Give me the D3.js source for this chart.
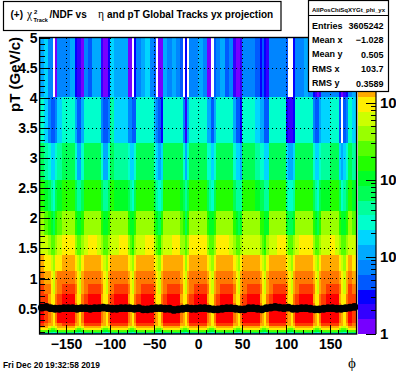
<!DOCTYPE html>
<html>
<head>
<meta charset="utf-8">
<script src="https://cdn.jsdelivr.net/npm/d3@7"></script>
<style>
  html, body { margin: 0; padding: 0; background: #fff; overflow: hidden; }
  text { font-family: "Liberation Sans", sans-serif; font-weight: bold; fill: #000; }
  .serif { font-family: "Liberation Serif", serif; font-weight: normal; }
</style>
</head>
<body>
<script>
// pT bin edges (GeV/c), low to high
const ptEdges = [0.07,0.087,0.107,0.132,0.164,0.203,0.251,0.311,0.385,0.476,0.589,0.729,0.903,1.118,1.383,1.712,2.119,2.623,3.246,4.018,5];

// phi bin edges (deg): narrow bins across each sector boundary, wide in between
const phiEdges = [-180,-175,-170,-167.5,-165,-162.5,-160,-155,-150,-145,-140,-137.5,-135,-132.5,-130,-125,-120,-115,-110,-107.5,-105,-102.5,-100,-95,-90,-85,-80,-77.5,-75,-72.5,-70,-65,-60,-55,-50,-47.5,-45,-42.5,-40,-35,-30,-25,-20,-17.5,-15,-12.5,-10,-5,0,5,10,12.5,15,17.5,20,25,30,35,40,42.5,45,47.5,50,55,60,65,70,72.5,75,77.5,80,85,90,95,100,102.5,105,107.5,110,115,120,125,130,132.5,135,137.5,140,145,150,155,160,162.5,165,167.5,170,175,180];

// counts per cell, one line per pT bin, lowest pT first. 0 = empty cell
const counts = [
[11,11, 7,7,7,7, 11,11,11,11, 7,7,7,7, 11,11,11,11, 7,7,7,7, 11,11,11,11, 7,7,7,7, 11,11,11,11, 7,7,7,7, 11,11,11,11, 7,7,7,7, 11,11,11,11, 7,7,7,7, 11,11,11,11, 7,7,7,7, 11,11,11,11, 7,7,7,7, 11,11,11,11, 7,7,7,7, 11,11,11,11, 7,7,7,7, 11,11,11,11, 7,7,7,7, 11,11],
[68,68, 44,44,28,44, 68,68,68,68, 44,44,28,44, 68,68,68,68, 44,44,28,44, 68,68,68,68, 44,44,28,44, 68,68,68,68, 44,44,28,44, 68,68,68,68, 44,44,28,44, 68,68,68,68, 44,44,28,44, 68,68,68,68, 44,44,28,44, 68,68,68,68, 44,44,28,44, 68,68,68,68, 44,44,28,44, 68,68,68,68, 44,44,28,44, 68,68,68,68, 44,44,28,44, 68,68],
[260,260, 165,105,105,165, 260,260,260,260, 165,105,105,165, 260,260,260,260, 165,105,105,165, 260,260,260,260, 165,105,105,165, 260,260,260,260, 165,105,105,165, 260,260,260,260, 165,105,105,165, 260,260,260,260, 165,105,105,165, 260,260,260,260, 165,105,105,165, 260,260,260,260, 165,105,105,165, 260,260,260,260, 165,105,105,165, 260,260,260,260, 165,105,105,165, 260,260,260,260, 165,105,105,165, 260,260],
[980,980, 400,260,260,400, 980,980,980,980, 400,260,260,400, 980,980,980,980, 400,260,260,400, 980,980,980,980, 400,260,260,400, 980,980,980,980, 400,260,260,400, 980,980,980,980, 400,260,260,400, 980,980,980,980, 400,260,260,400, 980,980,980,980, 400,260,260,400, 980,980,980,980, 400,260,260,400, 980,980,980,980, 400,260,260,400, 980,980,980,980, 400,260,260,400, 980,980,980,980, 400,260,260,400, 980,980],
[1500,1500, 980,630,630,980, 1500,1500,1500,1500, 980,630,630,980, 1500,1500,1500,1500, 980,630,630,980, 1500,1500,1500,1500, 980,630,630,980, 1500,1500,1500,1500, 980,630,630,980, 1500,1500,1500,1500, 980,630,630,980, 1500,1500,1500,1500, 980,630,630,980, 1500,1500,1500,1500, 980,630,630,980, 1500,1500,1500,1500, 980,630,630,980, 1500,1500,1500,1500, 980,630,630,980, 1500,1500,1500,1500, 980,630,630,980, 1500,1500,1500,1500, 980,630,630,980, 1500,1500],
[3700,2400, 1500,1500,980,1500, 2400,3700,3700,3700, 1500,1500,980,1500, 3700,3700,3700,3700, 1500,1500,980,1500, 3700,3700,3700,3700, 1500,1500,980,1500, 3700,3700,3700,3700, 1500,1500,980,1500, 3700,3700,3700,3700, 1500,1500,980,1500, 3700,3700,3700,3700, 1500,1500,980,1500, 3700,3700,3700,3700, 1500,1500,980,1500, 3700,3700,3700,3700, 1500,1500,980,1500, 3700,3700,3700,3700, 1500,1500,980,1500, 3700,3700,3700,3700, 1500,1500,980,1500, 3700,3700,3700,3700, 1500,1500,980,1500, 3700,2400],
[5800,3700, 2400,1500,980,2400, 5800,5800,5800,5800, 2400,1500,980,2400, 5800,5800,5800,5800, 2400,1500,980,2400, 5800,5800,5800,5800, 2400,1500,980,2400, 5800,5800,5800,5800, 2400,1500,980,2400, 5800,5800,5800,5800, 2400,1500,980,2400, 5800,5800,5800,5800, 2400,1500,980,2400, 5800,5800,5800,5800, 2400,1500,980,2400, 5800,5800,5800,5800, 2400,1500,980,2400, 5800,5800,5800,5800, 2400,1500,980,2400, 5800,5800,5800,5800, 2400,1500,980,2400, 5800,5800,5800,5800, 2400,1500,980,2400, 5800,3700],
[5800,3700, 2400,1500,980,2400, 5800,5800,5800,5800, 2400,1500,980,2400, 5800,5800,5800,5800, 2400,1500,980,2400, 5800,5800,5800,5800, 2400,1500,980,2400, 5800,5800,5800,5800, 2400,1500,980,2400, 5800,5800,5800,5800, 2400,1500,980,2400, 5800,5800,5800,5800, 2400,1500,980,2400, 5800,5800,5800,5800, 2400,1500,980,2400, 5800,5800,5800,5800, 2400,1500,980,2400, 5800,5800,5800,5800, 2400,1500,980,2400, 5800,5800,5800,5800, 2400,1500,980,2400, 5800,5800,5800,5800, 2400,1500,980,2400, 5800,3700],
[5800,3700, 2400,1500,980,2400, 5800,5800,5800,5800, 2400,1500,980,2400, 5800,5800,5800,5800, 2400,1500,980,2400, 5800,5800,5800,5800, 2400,1500,980,2400, 5800,5800,5800,5800, 2400,1500,980,2400, 5800,5800,5800,5800, 2400,1500,980,2400, 5800,5800,5800,5800, 2400,1500,980,2400, 5800,5800,5800,5800, 2400,1500,980,2400, 5800,5800,5800,5800, 2400,1500,980,2400, 5800,5800,5800,5800, 2400,1500,980,2400, 5800,5800,5800,5800, 2400,1500,980,2400, 5800,5800,5800,5800, 2400,1500,980,2400, 5800,3700],
[5800,3700, 2400,980,980,2400, 3700,5800,5800,5800, 2400,980,980,2400, 3700,5800,5800,5800, 2400,980,980,2400, 3700,5800,5800,5800, 2400,980,980,2400, 3700,5800,5800,5800, 2400,980,980,2400, 3700,5800,5800,5800, 2400,980,980,2400, 3700,5800,5800,5800, 2400,980,980,2400, 3700,5800,5800,5800, 2400,980,980,2400, 3700,5800,5800,5800, 2400,980,980,2400, 3700,5800,5800,5800, 2400,980,980,2400, 3700,5800,5800,5800, 2400,980,980,2400, 3700,5800,5800,5800, 2400,980,980,2400, 3700,5800],
[3700,3700, 1500,980,980,2400, 3700,5800,5800,5800, 1500,980,980,2400, 3700,5800,5800,5800, 1500,980,980,2400, 3700,5800,5800,5800, 1500,980,980,2400, 3700,5800,5800,5800, 1500,980,980,2400, 3700,5800,5800,5800, 1500,980,980,2400, 3700,5800,5800,5800, 1500,980,980,2400, 3700,5800,5800,5800, 1500,980,980,2400, 3700,5800,5800,5800, 1500,980,980,2400, 3700,5800,5800,5800, 1500,980,980,2400, 3700,5800,5800,5800, 1500,980,980,2400, 3700,5800,5800,5800, 1500,980,980,2400, 3700,3700],
[3700,2400, 2400,980,630,1500, 2400,3700,3700,3700, 2400,980,630,1500, 2400,3700,3700,3700, 2400,980,630,1500, 2400,3700,3700,3700, 2400,980,630,1500, 2400,3700,3700,3700, 2400,980,630,1500, 2400,3700,3700,3700, 2400,980,630,1500, 2400,3700,3700,3700, 2400,980,630,1500, 2400,3700,3700,3700, 2400,980,630,1500, 2400,3700,3700,3700, 2400,980,630,1500, 2400,3700,3700,3700, 2400,980,630,1500, 2400,3700,3700,3700, 2400,980,630,1500, 2400,3700,3700,3700, 2400,980,630,1500, 3700,2400],
[2400,1500, 1500,980,630,1500, 2400,2400,2400,2400, 1500,980,630,1500, 2400,2400,2400,2400, 1500,980,630,1500, 2400,2400,2400,2400, 1500,980,630,1500, 2400,2400,2400,2400, 1500,980,630,1500, 2400,2400,2400,2400, 1500,980,630,1500, 2400,2400,2400,2400, 1500,980,630,1500, 2400,2400,2400,2400, 1500,980,630,1500, 2400,2400,2400,2400, 1500,980,630,1500, 2400,2400,2400,2400, 1500,980,630,1500, 2400,2400,2400,2400, 1500,980,630,1500, 2400,2400,2400,2400, 1500,980,630,1500, 2400,1500],
[1500,980, 980,630,400,980, 980,1500,1500,1500, 980,630,400,980, 1500,1500,1500,1500, 980,630,400,980, 1500,1500,1500,1500, 980,630,400,980, 1500,1500,1500,1500, 980,630,400,980, 1500,1500,1500,1500, 1500,980,400,980, 1500,1500,1500,1500, 980,630,400,980, 1500,1500,1500,1500, 980,630,400,980, 1500,1500,1500,1500, 980,630,400,980, 1500,1500,1500,1500, 980,630,400,980, 1500,1500,1500,1500, 980,630,400,980, 1500,1500,1500,1500, 980,630,400,980, 1500,980],
[630,630, 400,260,260,400, 630,980,980,980, 400,260,260,400, 630,980,980,630, 400,260,260,400, 630,630,980,980, 400,260,165,400, 630,630,980,980, 400,260,165,400, 630,630,980,980, 400,400,260,400, 980,980,980,980, 400,260,260,400, 980,980,980,630, 400,260,260,400, 630,630,630,630, 400,260,165,400, 630,630,980,980, 400,260,260,400, 630,980,980,980, 400,260,260,400, 630,630,980,630, 400,260,260,400, 630,630],
[400,260, 165,105,68,165, 260,400,400,400, 165,105,105,165, 400,400,400,400, 165,105,105,165, 400,400,400,400, 165,105,105,165, 400,400,400,400, 165,105,68,165, 400,400,400,400, 260,165,68,165, 400,400,400,400, 165,105,105,165, 400,400,400,400, 165,105,68,105, 400,400,400,400, 165,165,105,105, 400,400,400,400, 105,68,68,105, 400,400,400,400, 165,105,68,165, 400,400,400,400, 165,105,105,165, 400,260],
[165,105, 68,44,28,68, 105,165,165,165, 68,44,44,68, 165,165,165,165, 68,44,44,68, 165,105,105,105, 68,44,28,68, 165,165,165,165, 68,44,28,44, 165,165,165,165, 105,68,44,68, 165,165,165,165, 68,44,28,68, 165,165,165,165, 68,44,44,44, 165,165,165,105, 68,68,44,44, 165,165,165,165, 44,28,28,44, 165,165,165,165, 68,44,28,68, 105,105,165,165, 68,28,44,68, 165,105],
[68,44, 28,18,18,28, 44,68,68,68, 28,11,11,28, 68,68,68,68, 28,11,11,28, 68,44,44,44, 28,18,18,28, 68,68,68,68, 28,18,11,18, 68,68,68,68, 68,28,11,28, 68,68,68,68, 28,28,18,28, 68,68,68,68, 28,18,18,11, 68,68,68,44, 28,28,18,18, 68,68,68,68, 18,11,11,18, 68,68,68,68, 28,18,18,28, 44,44,68,68, 18,11,18,28, 68,44],
[28,18, 7,5,5,7, 18,28,28,28, 11,5,5,11, 28,28,28,28, 7,5,5,7, 44,18,18,18, 7,7,5,5, 28,28,28,28, 11,7,5,3, 28,28,28,28, 28,7,2,11, 28,28,28,28, 11,11,5,11, 28,28,28,28, 11,5,5,3, 28,28,28,18, 11,11,5,5, 28,28,28,28, 3,2,2,3, 28,28,28,28, 7,5,5,11, 18,18,28,28, 5,0,5,7, 28,18],
[11,18, 7,7,0,1.2, 7,7,7,11, 3,2,2,1.2, 7,5,11,11, 2,1.2,1.2,3, 18,11,11,11, 1.2,1.2,0,3, 7,11,18,7, 5,0,1.2,1.2, 11,7,11,7, 5,0,3,0, 7,7,11,7, 1.2,1.2,0,5, 7,11,5,7, 2,1.2,1.2,2, 7,7,7,5, 3,5,3,2, 7,7,7,7, 5,0,0,3, 7,7,11,7, 3,2,1.2,2, 7,7,7,7, 3,1.2,2,3, 7,11]
];

// mean pT per 5 deg of phi, drawn as the black marker band
const meanPt = [0.51,0.52,0.50,0.49,0.49,0.50,0.50,0.50,0.49,0.50,0.50,0.49,0.50,0.50,0.51,0.50,0.49,0.49,0.50,0.50,0.50,0.49,0.50,0.48,0.48,0.49,0.50,0.50,0.49,0.49,0.47,0.48,0.49,0.50,0.49,0.49,0.50,0.50,0.49,0.48,0.48,0.49,0.50,0.50,0.49,0.48,0.48,0.50,0.50,0.49,0.48,0.50,0.51,0.52,0.51,0.50,0.51,0.49,0.49,0.50,0.50,0.49,0.48,0.48,0.49,0.50,0.50,0.49,0.49,0.50,0.51,0.52];

const paletteColors = ["#7700ff","#3300ff","#0500ff","#0059ff","#0085ff","#00aaff","#00d5ff","#00ffcc","#00ff9c","#00ff55","#00ff26","#22ff00","#55ff00","#99ff00","#ccff00","#ffee00","#ffaa00","#ff7700","#ff3c00","#ff0000"];

const xTicks = [-150,-100,-50,0,50,100,150];
const xMinor = d3.range(-170, 180, 10);
const yTicks = [0.5,1,1.5,2,2.5,3,3.5,4,4.5,5];
const yMinor = d3.range(1, 50).map(d => d / 10);
const zTicks = [1,10,100,1000];
const zMinor = [2,3,4,5,6,7,8,9,20,30,40,50,60,70,80,90,200,300,400,500,600,700,800,900,2000,3000,4000,5000,6000,7000];
const zLabels = ["1","10","10","10"];
const zMax = 7200;

const statNames = ["Entries","Mean x","Mean y","RMS x","RMS y"];
const statValues = ["3605242","\u22121.028","0.505","103.7","0.3589"];

const width = 396, height = 372;

const svg = d3.select("body").append("svg")
    .attr("width", width)
    .attr("height", height)
    .style("display", "block");

const x = d3.scaleLinear([-180, 180], [39.6, 356.6]);
const y = d3.scaleLinear([0.07, 5], [334, 37.5]);
const z = d3.scaleLog([1, zMax], [334, 37.5]);

// equal steps in log10(count) pick the colour band
const color = d3.scaleQuantize([0, Math.log10(zMax)], paletteColors);

const cells = counts.flatMap((row, i) => row.map((c, j) => ({i, j, c}))).filter(d => d.c > 0);

svg.append("g")
    .attr("shape-rendering", "crispEdges")
    .selectAll("rect")
    .data(cells)
    .join("rect")
    .attr("x", d => x(phiEdges[d.j]))
    .attr("y", d => y(ptEdges[d.i + 1]))
    .attr("width", d => x(phiEdges[d.j + 1]) - x(phiEdges[d.j]))
    .attr("height", d => y(ptEdges[d.i]) - y(ptEdges[d.i + 1]))
    .attr("fill", d => color(Math.log10(d.c)));

// dotted grid
const grid = svg.append("g")
    .attr("stroke", "#000")
    .attr("stroke-width", 1)
    .attr("stroke-dasharray", "1 3")
    .attr("shape-rendering", "crispEdges");
grid.selectAll(".gx").data(xTicks).join("line")
    .attr("x1", d => x(d)).attr("x2", d => x(d))
    .attr("y1", y(5)).attr("y2", y(0.07));
grid.selectAll(".gy").data(yTicks.slice(0, -1)).join("line")
    .attr("x1", x(-180)).attr("x2", x(180))
    .attr("y1", d => y(d) + 0.5).attr("y2", d => y(d) + 0.5);

// mean pT markers
svg.append("g")
    .selectAll("circle")
    .data(meanPt)
    .join("circle")
    .attr("cx", (d, i) => x(-177.5 + i * 5))
    .attr("cy", d => y(d))
    .attr("r", 3.9)
    .attr("fill", "#000");

// frame
svg.append("rect")
    .attr("x", x(-180)).attr("y", y(5))
    .attr("width", x(180) - x(-180)).attr("height", y(0.07) - y(5))
    .attr("fill", "none").attr("stroke", "#000").attr("stroke-width", 1.4);

const minorTicks = svg.append("g")
    .attr("stroke", "#000")
    .attr("stroke-width", 1)
    .attr("shape-rendering", "crispEdges");
minorTicks.selectAll(".mx").data(xMinor).join("line")
    .attr("x1", d => x(d)).attr("x2", d => x(d))
    .attr("y1", y(0.07)).attr("y2", y(0.07) - 4.5);
minorTicks.selectAll(".my").data(yMinor).join("line")
    .attr("x1", x(-180)).attr("x2", x(-180) + 5.5)
    .attr("y1", d => y(d) + 0.5).attr("y2", d => y(d) + 0.5);

const xAxis = svg.append("g")
    .attr("transform", `translate(0,${y(0.07)})`)
    .attr("shape-rendering", "crispEdges")
    .call(d3.axisBottom(x).tickValues(xTicks).tickSize(-9).tickSizeOuter(0).tickPadding(5));
const yAxis = svg.append("g")
    .attr("transform", `translate(${x(-180)},0.5)`)
    .attr("shape-rendering", "crispEdges")
    .call(d3.axisLeft(y).tickValues(yTicks).tickFormat(d3.format("~g")).tickSize(-10).tickSizeOuter(0).tickPadding(2));
xAxis.select(".domain").remove();
yAxis.select(".domain").remove();
xAxis.selectAll("text").style("font-size", "14px").style("font-family", '"Liberation Sans", sans-serif');
yAxis.selectAll("text").style("font-size", "14px").style("font-family", '"Liberation Sans", sans-serif');
xAxis.selectAll("line").attr("stroke-width", 1);
yAxis.selectAll("line").attr("stroke-width", 1);

// palette
const levels = d3.range(paletteColors.length);
const zStep = Math.log10(zMax) / paletteColors.length;
svg.append("g")
    .attr("shape-rendering", "crispEdges")
    .selectAll("rect")
    .data(levels)
    .join("rect")
    .attr("x", 358).attr("width", 18)
    .attr("y", d => z(Math.pow(10, (d + 1) * zStep)))
    .attr("height", d => z(Math.pow(10, d * zStep)) - z(Math.pow(10, (d + 1) * zStep)))
    .attr("fill", d => paletteColors[d]);

svg.append("line")
    .attr("x1", 376).attr("x2", 376).attr("y1", 37.5).attr("y2", 334)
    .attr("stroke", "#000").attr("stroke-width", 1.2);

const zAxis = svg.append("g")
    .attr("transform", "translate(376,0)")
    .attr("shape-rendering", "crispEdges")
    .call(d3.axisLeft(z).tickValues(zTicks).tickFormat("").tickSize(10).tickSizeOuter(0));
zAxis.select(".domain").remove();
svg.append("g").attr("stroke", "#000").attr("shape-rendering", "crispEdges")
    .selectAll("line").data(zMinor).join("line")
    .attr("x1", 371).attr("x2", 376)
    .attr("y1", d => z(d)).attr("y2", d => z(d));

svg.append("g").selectAll("text").data(zTicks).join("text")
    .attr("x", 380)
    .attr("y", d => z(d) + 5)
    .style("font-size", "15px")
    .text((d, i) => zLabels[i]);

// axis titles and date
svg.append("text")
    .attr("transform", "translate(20,37) rotate(-90)")
    .attr("text-anchor", "end")
    .style("font-size", "15px")
    .text("pT (GeV/c)");

svg.append("text")
    .attr("class", "serif")
    .attr("x", 348).attr("y", 368)
    .style("font-size", "15px")
    .text("\u03d5");

svg.append("text")
    .attr("x", 3).attr("y", 368)
    .style("font-size", "8.4px")
    .text("Fri Dec 20 19:32:58 2019");

// title box
svg.append("rect")
    .attr("x", 3.5).attr("y", 1.5).attr("width", 277.5).attr("height", 29)
    .attr("fill", "#fff").attr("stroke", "#000").attr("stroke-width", 1.2);

const titleParts = [
    {t: "(+)", x: 10.5, y: 18, s: 10},
    {t: "\u03c7", x: 27, y: 18, s: 11.5, serif: true},
    {t: "2", x: 34, y: 14, s: 6},
    {t: "Track", x: 33.5, y: 22, s: 5.5},
    {t: "/NDF vs", x: 49.5, y: 18, s: 10},
    {t: "\u03b7", x: 98, y: 18, s: 11.5, serif: true},
    {t: "and pT Global Tracks yx projection", x: 107, y: 18, s: 10}
];
svg.append("g").selectAll("text").data(titleParts).join("text")
    .attr("class", d => d.serif ? "serif" : null)
    .attr("x", d => d.x).attr("y", d => d.y)
    .style("font-size", d => d.s + "px")
    .text(d => d.t);

// stats box
svg.append("rect")
    .attr("x", 308.5).attr("y", 0.5).attr("width", 80).attr("height", 91)
    .attr("fill", "#fff").attr("stroke", "#000").attr("stroke-width", 1.2);
svg.append("line")
    .attr("x1", 308.5).attr("x2", 388.5).attr("y1", 15.5).attr("y2", 15.5)
    .attr("stroke", "#000").attr("stroke-width", 1);
svg.append("text")
    .attr("x", 348.5).attr("y", 11.5)
    .attr("text-anchor", "middle")
    .style("font-size", "6px")
    .text("AllPosChiSqXYGt_phi_yx");

const statY = d3.scalePoint(statNames, [28.5, 86]);
svg.append("g").selectAll("text").data(statNames).join("text")
    .attr("x", 312).attr("y", d => statY(d))
    .style("font-size", "9px")
    .text(d => d);
svg.append("g").selectAll("text").data(statValues).join("text")
    .attr("x", 383.5).attr("y", (d, i) => statY(statNames[i]) + 0.5)
    .attr("text-anchor", "end")
    .style("font-size", "9px")
    .text(d => d);
</script>
</body>
</html>
